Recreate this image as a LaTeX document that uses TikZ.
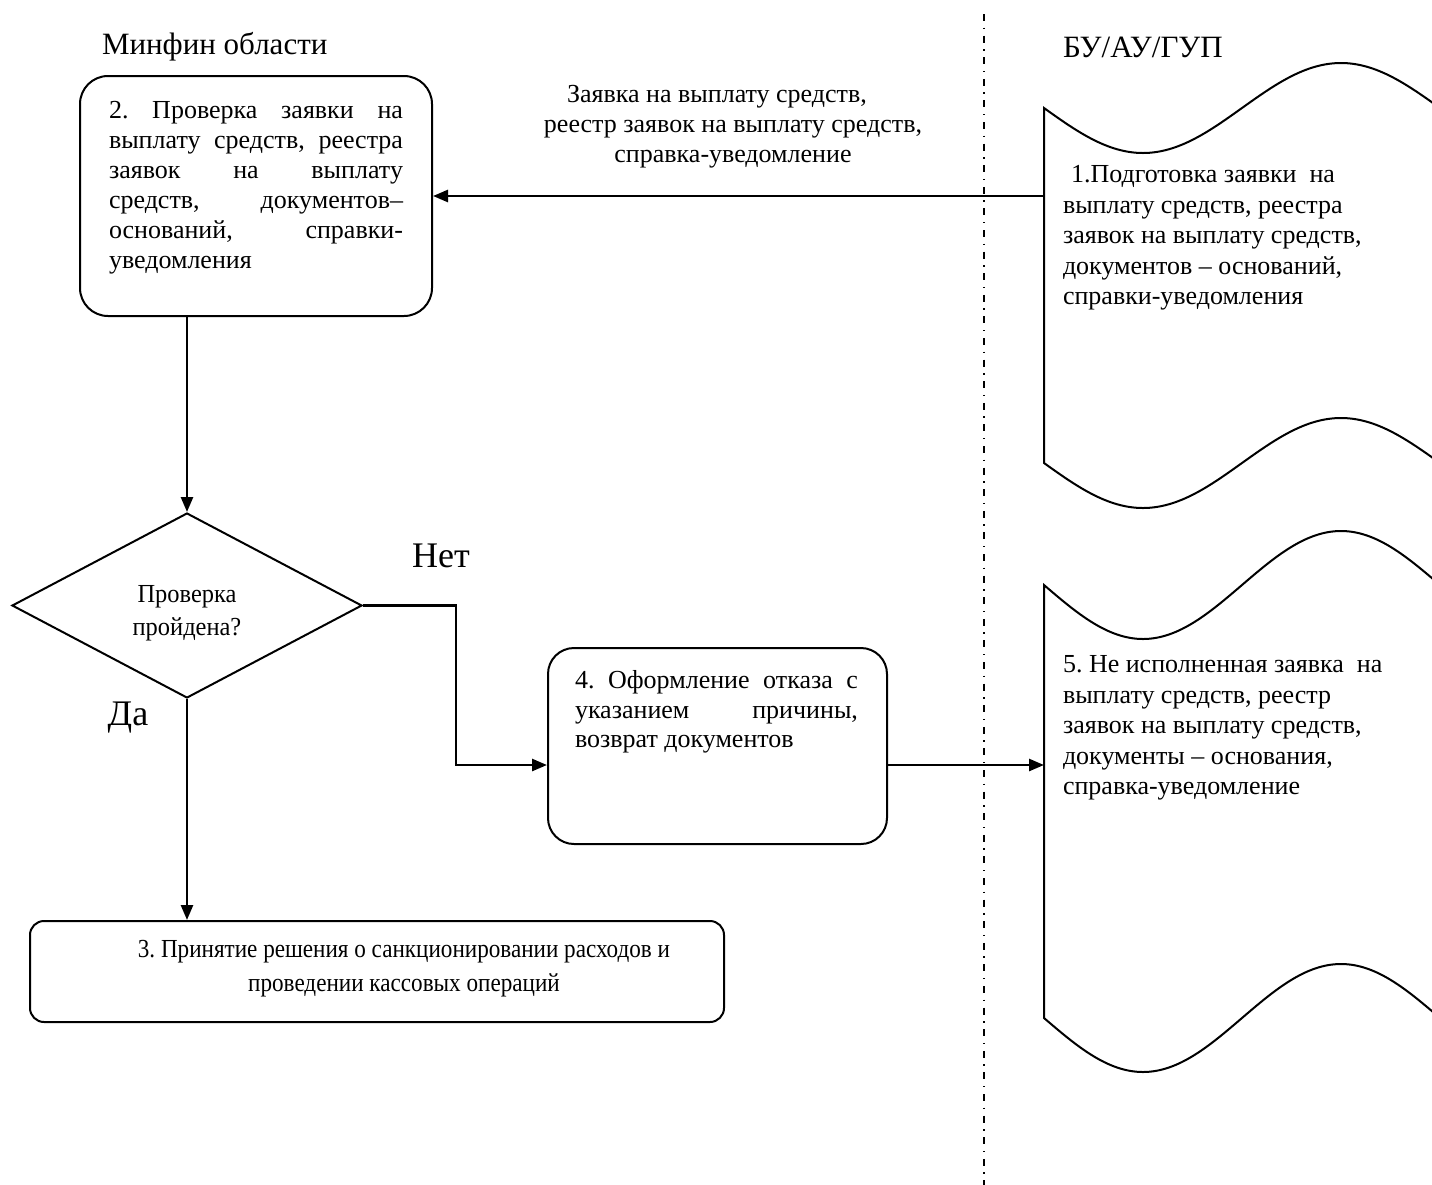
\documentclass[tikz,border=0pt]{standalone}
\usepackage{fontspec}
\usepackage{graphicx}
\setmainfont{Liberation Serif}
\usetikzlibrary{arrows.meta,shapes.geometric,calc}
\newcommand{\fpx}[2]{\fontsize{#1}{#2}\selectfont}
\frenchspacing
\begin{document}
\begin{tikzpicture}[x=0.5pt,y=-0.5pt,
  box/.style={draw, line width=1pt, inner sep=0pt},
  conn/.style={line width=1.3pt},
  arr/.style={conn, -{Triangle[length=7.5pt,width=6pt]}},
  tape/.style={draw, line width=1pt},
  lane/.style={line width=1pt, dash pattern=on 3.5pt off 3.3pt on 0.7pt off 3.3pt},
  txt/.style={inner sep=0pt, outer sep=0pt},
  ghost/.style={inner sep=0pt, outer sep=0pt, draw=none}
]
\fill[white] (0,0) rectangle (1432,1185);
\useasboundingbox (0,0) rectangle (1432,1185);

% headers
\node[txt, anchor=west, font=\fpx{15.5}{18}] (h1) at (102,47) {Минфин области};
\node[txt, anchor=west, font=\fpx{15.5}{18}] (h2) at (1063,47) {БУ/АУ/ГУП};

% swimlane separator
\coordinate (lt) at (984,14);
\coordinate (lb) at (984,1185);
\draw[lane] (lt) -- (lb);

% box 2
\node[box, rounded corners=14pt, minimum width=176pt, minimum height=120pt] (b2) at (256,196) {};
\node[txt, anchor=west, text width=147pt, align=justify, font=\fpx{13}{15}] (t2) at (109,188)
 {\noindent 2. Проверка заявки на\linebreak выплату средств, реестра\linebreak заявок на выплату\linebreak средств, документов–\linebreak оснований, справки-\linebreak уведомления};

% document shape 1
\node[ghost, minimum width=198pt, minimum height=177.5pt] (doc1) at (1242,285.5) {};
\draw[tape] (1044,108) sin (1143,153) cos (1242,108) sin (1341,63) cos (1440,108)
  -- (1440,463) sin (1341,418) cos (1242,463) sin (1143,508) cos (1044,463) -- cycle;
\node[txt, anchor=west, align=left, font=\fpx{13}{15.25}] (t1) at (1063,238)
 {\hspace*{4pt}1.Подготовка заявки\ \ на\\выплату средств, реестра\\заявок на выплату средств,\\документов – оснований,\\справки-уведомления};

% document shape 2
\node[ghost, minimum width=198pt, minimum height=216.5pt] (doc2) at (1242,801.5) {};
\draw[tape] (1044,585) sin (1143,639) cos (1242,585) sin (1341,531) cos (1440,585)
  -- (1440,1018) sin (1341,964) cos (1242,1018) sin (1143,1072) cos (1044,1018) -- cycle;
\node[txt, anchor=west, align=left, font=\fpx{13}{15.25}] (t5) at (1063,728)
 {5. Не исполненная заявка\ \ на\\выплату средств, реестр\\заявок на выплату средств,\\документы – основания,\\справка-уведомление};

% arrow label
\node[txt, align=center, font=\fpx{13}{15}] (lab) at (733,127)
 {Заявка на выплату средств,\hspace*{16pt}\\реестр заявок на выплату средств,\\справка-уведомление};

% decision
\node[draw, line width=1pt, diamond, shape aspect=1.89, minimum width=175pt, minimum height=92.5pt, inner sep=0pt] (d) at (187,605.5) {};
\node[txt, align=center, font=\fpx{13}{16.5}] (dt) at (187,613)
 {\scalebox{0.94}[1]{Проверка}\\\scalebox{0.94}[1]{пройдена?}};
\node[txt, font=\fpx{18}{20}] (no) at (441,556) {Нет};
\node[txt, font=\fpx{18}{20}] (yes) at (128,718) {Да};

% box 4
\node[box, rounded corners=13pt, minimum width=169.5pt, minimum height=98pt] (b4) at (717.5,746) {};
\node[txt, anchor=west, text width=141.5pt, align=justify, font=\fpx{13}{14.75}] (t4) at (575,712)
 {\noindent 4. Оформление отказа с\linebreak указанием причины,\linebreak возврат документов};

% box 3
\node[box, rounded corners=7pt, minimum width=347pt, minimum height=50.5pt] (b3) at (377,971.5) {};
\node[txt, align=center, font=\fpx{13}{17}] (t3) at (404,969)
 {\scalebox{0.89}[1]{3. Принятие решения о санкционировании расходов и}\\\scalebox{0.89}[1]{проведении кассовых операций}};

% connectors
\coordinate (k1) at (456,765);
\draw[arr] (b2.east -| doc1.west) -- (b2.east);
\draw[arr] (d.north |- b2.south) -- (d.north);
\draw[arr] (d.east) -| (k1) -- (k1 -| b4.west);
\draw[arr] (k1 -| b4.east) -- (k1 -| doc2.west);
\draw[arr] (d.south) -- (d.south |- b3.north);
\end{tikzpicture}
\end{document}
